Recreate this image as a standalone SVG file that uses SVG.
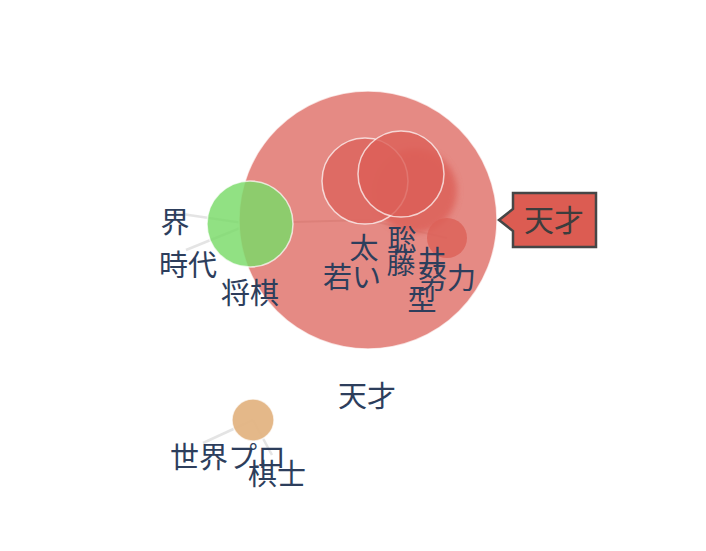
<svg xmlns="http://www.w3.org/2000/svg" width="706" height="551" viewBox="0 0 706 551">
  <style>
    .lbl { font-family: "Noto Sans CJK JP", "Noto Sans CJK SC", sans-serif; font-size: 29px; fill: #2d3e5c; text-anchor: middle; }
    .edge { stroke: #d8d8d8; stroke-width: 2.5; stroke-opacity: 0.7; fill: none; }
    .node { stroke: #ffffff; stroke-opacity: 0.7; stroke-width: 1.5; }
  </style>
  <defs>
    <filter id="soft" x="-20%" y="-20%" width="140%" height="140%">
      <feGaussianBlur stdDeviation="3"/>
    </filter>
  </defs>
  <rect width="706" height="551" fill="#ffffff"/>

  <!-- connectors -->
  <g id="edges">
    <line class="edge" x1="250" y1="224" x2="175" y2="213"/>
    <line class="edge" x1="250" y1="224" x2="186" y2="250"/>
    <line class="edge" x1="253" y1="420" x2="203" y2="443"/>
    <line class="edge" x1="253" y1="420" x2="272" y2="455"/>
  </g>

  <!-- cluster: 天才 -->
  <g id="node-tensai">
    <circle class="node" cx="368" cy="220" r="129" fill="#e58a84"/>
    <text class="lbl" x="367" y="407">天才</text>
  </g>
  <g id="inner-edges">
    <line x1="293" y1="222" x2="368" y2="220" stroke="#d77a73" stroke-width="2" opacity="0.6"/>
    <line x1="368" y1="220" x2="447" y2="238" stroke="#d77a73" stroke-width="2" opacity="0.5"/>
  </g>
  <g id="node-so">
    <circle cx="415" cy="191" r="42" fill="#dc5f56" opacity="0.8" filter="url(#soft)"/>
  </g>
  <g id="node-doryoku">
    <circle cx="447" cy="238" r="20" fill="#dc6058" opacity="0.8"/>
  </g>
  <g id="node-wakai">
    <circle class="node" cx="365" cy="181" r="43" fill="#dd6760" fill-opacity="0.9"/>
  </g>
  <g id="node-fujii">
    <circle class="node" cx="401" cy="174" r="43" fill="#dc5f57" fill-opacity="0.8"/>
  </g>

  <!-- cluster: 将棋 -->
  <g id="node-shogi">
    <circle class="node" cx="250" cy="224" r="43" fill="#79da68" fill-opacity="0.82"/>
    <text class="lbl" x="250" y="304">将棋</text>
  </g>
  <g id="node-kai"><text class="lbl" x="175" y="233">界</text></g>
  <g id="node-jidai"><text class="lbl" x="188" y="276">時代</text></g>

  <!-- labels inside the red cluster -->
  <g id="label-ta"><text class="lbl" x="364" y="259">太</text></g>
  <g id="label-wakai"><text class="lbl" x="352" y="288">若い</text></g>
  <g id="label-so"><text class="lbl" x="402" y="251">聡</text></g>
  <g id="label-fuji"><text class="lbl" x="401" y="274">藤</text></g>
  <g id="label-i"><text class="lbl" x="432" y="272">井</text></g>
  <g id="label-doryoku"><text class="lbl" x="447" y="289">努力</text></g>
  <g id="label-kata"><text class="lbl" x="422" y="311">型</text></g>

  <!-- cluster: 棋士 -->
  <g id="node-kishi">
    <circle class="node" cx="253" cy="420" r="21" fill="#e3b483" fill-opacity="0.95"/>
  </g>
  <g id="label-sekaipro"><text class="lbl" x="228" y="468">世界プロ</text></g>
  <g id="label-kishi"><text class="lbl" x="277" y="485">棋士</text></g>

  <!-- tooltip -->
  <g id="tooltip">
    <polygon points="513,193 596,193 596,247 513,247 513,231 499,220 513,209" fill="#dc5c52" stroke="#464646" stroke-width="2.5" stroke-linejoin="miter"/>
    <text x="554" y="231" font-family="Noto Sans CJK JP, sans-serif" font-size="30" fill="#3d3d3d" text-anchor="middle">天才</text>
  </g>
</svg>
